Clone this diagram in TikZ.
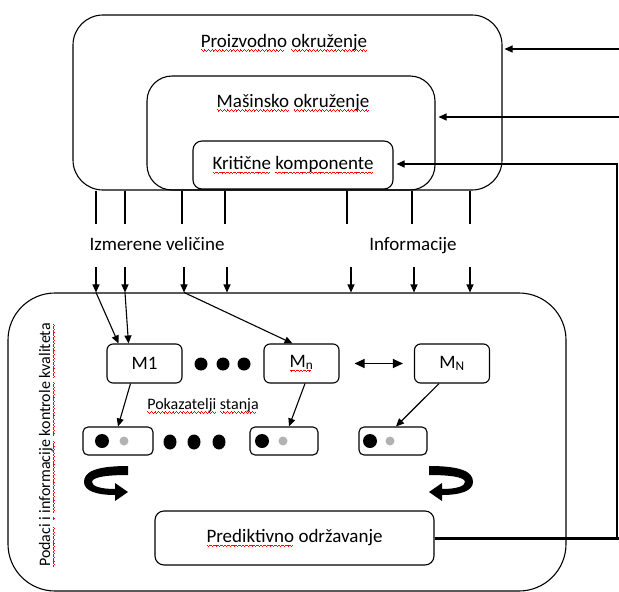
\documentclass[tikz,border=0pt]{standalone}
\usepackage{fontspec}
\setmainfont{Carlito}
\usetikzlibrary{arrows.meta}

% crvena talasasta linija ispod reci
\newcommand\talas{\hbox{\vrule width0.9pt height-2.4pt depth3.3pt\vrule width0.9pt height-3.2pt depth4.1pt\vrule width0.9pt height-4.0pt depth4.9pt\vrule width0.9pt height-3.2pt depth4.1pt}}
\newcommand\vijug[1]{\setbox0\hbox{#1}\rlap{\hbox to\wd0{\color{red}\leaders\talas\hfill}}\box0\relax}

\tikzset{
	okvir/.style={draw, rounded corners=#1, line width=1.1pt, inner sep=0pt},
	mkutija/.style={okvir=6pt, minimum width=75, minimum height=39, font=\fontsize{19}{22}\selectfont},
	pkutija/.style={okvir=5pt, minimum height=28},
	tekst/.style={font=\fontsize{19}{22}\selectfont, inner sep=0pt},
	strelica/.style={line width=1.1pt, -{Triangle[length=8pt,width=7pt]}},
	kruzna/.pic={
		\fill (128,466) .. controls (95,466) and (84,472) .. (84,482)
			.. controls (84,491) and (97,495) .. (115,495) -- (115,501) -- (128,492)
			-- (115,483) -- (115,489) .. controls (100,489) and (92,486) .. (92,482)
			.. controls (92,478) and (102,475) .. (128,475) -- cycle;
	}
}

\begin{document}
\begin{tikzpicture}[x=1pt, y=-1pt]
	\useasboundingbox (0,0) rectangle (619,592);
	
	% Okruzenja (gore)
	\node[okvir=30pt, minimum width=429, minimum height=175] (proizv) at (287.5,102.5) {};
	\node[okvir=25pt, minimum width=288, minimum height=114] (masin) at (291,133) {};
	\node[okvir=9pt, minimum width=200, minimum height=48, tekst] (krit) at (293,165) {\vijug{Kritične} \vijug{komponente}};
	\node[tekst, anchor=base] (tproizv) at (284,47) {\vijug{Proizvodno} \vijug{okruženje}};
	\node[tekst, anchor=base] (tmasin) at (293,107) {\vijug{Mašinsko} \vijug{okruženje}};
	
	% Povratne veze sa desne strane
	\coordinate (d1) at (619,49);
	\coordinate (d2) at (619,117);
	\coordinate (d3) at (617,164);
	\coordinate (d4) at (617,538);
	\draw[strelica, shorten >=2pt] (d1) -- (proizv.east |- d1);
	\draw[strelica, shorten >=3pt] (d2) -- (masin.east |- d2);
	\draw[strelica, shorten >=3pt] (d4) -- (d3) -- (krit.east |- d3);
	
	% Merenja i informacije
	\foreach \x in {96,125,182,225,347,412,470}
		\draw[line width=1.1pt] (\x,0 |- proizv.south) -- ++(0,33);
	\node[tekst, anchor=base] (izmer) at (157,250) {Izmerene veličine};
	\node[tekst, anchor=base] (info) at (413,250) {Informacije};
	
	% Podaci i informacije kontrole kvaliteta
	\node[okvir=47pt, minimum width=558, minimum height=298] (podaci) at (287,442) {};
	\node[font=\fontsize{16}{19}\selectfont, rotate=90, inner sep=0pt] (tpodaci) at (47,445)
		{\vijug{Podaci} \vijug{i} \vijug{informacije} \vijug{kontrole}\ \vijug{kvaliteta}};
	\foreach \x in {96,125,184,227,351,414,470}
		\draw[strelica] (\x,267) -- (\x,0 |- podaci.north);
	
	% Modeli
	\node[mkutija] (m1) at (144.5,363.5) {M1};
	\node[mkutija] (mn) at (301.5,363.5) {\vijug{M\textsubscript{n}}};
	\node[mkutija] (mN) at (452,363.5) {M\textsubscript{N}};
	\foreach \x in {201,223,244}
		\fill (\x,364) circle (6.5);
	\draw[strelica] (96,0 |- podaci.north) -- ([xshift=-26]m1.north);
	\draw[strelica] (125,0 |- podaci.north) -- ([xshift=-16]m1.north);
	\draw[strelica] (184,0 |- podaci.north) -- ([xshift=-9]mn.north);
	\draw[line width=1.1pt, {Triangle[length=10pt,width=9pt]}-{Triangle[length=10pt,width=9pt]}]
		([xshift=15]mn.east) -- ([xshift=-11]mN.west);
	
	% Pokazatelji stanja
	\node[font=\fontsize{16}{19}\selectfont, inner sep=0pt, anchor=base] (pokaz) at (203,409) {\vijug{Pokazatelji} \vijug{stanja}};
	\node[pkutija, minimum width=70] (p1) at (118,441) {};
	\node[pkutija, minimum width=68] (p2) at (284,441) {};
	\node[pkutija, minimum width=68] (p3) at (393,441) {};
	\draw[strelica] ([xshift=-14]m1.south) -- (p1.north);
	\draw[strelica] ([xshift=3.5]mn.south) -- ([xshift=5]p2.north);
	\draw[strelica] ([xshift=-13]mN.south) -- ([xshift=3]p3.north);
	\fill (102,441) circle (7);
	\fill[gray!60] (124,441) circle (4.5);
	\fill (262,441) circle (7);
	\fill[gray!60] (283,441) circle (4.5);
	\fill (370,441) circle (7);
	\fill[gray!60] (390,441) circle (4.5);
	\foreach \x in {170,194,219}
		\fill (\x,442) ellipse (6.5 and 7.5);
	
	% Kruzne strelice
	\pic at (0,0) {kruzna};
	\pic[xscale=-1] at (557,0) {kruzna};
	
	% Prediktivno odrzavanje
	\node[okvir=9pt, minimum width=279, minimum height=54, tekst] (pred) at (294.5,538) {\vijug{Prediktivno} održavanje};
	\draw[line width=3pt] (pred.east) -- (pred.east -| d1);
	
\end{tikzpicture}
\end{document}
